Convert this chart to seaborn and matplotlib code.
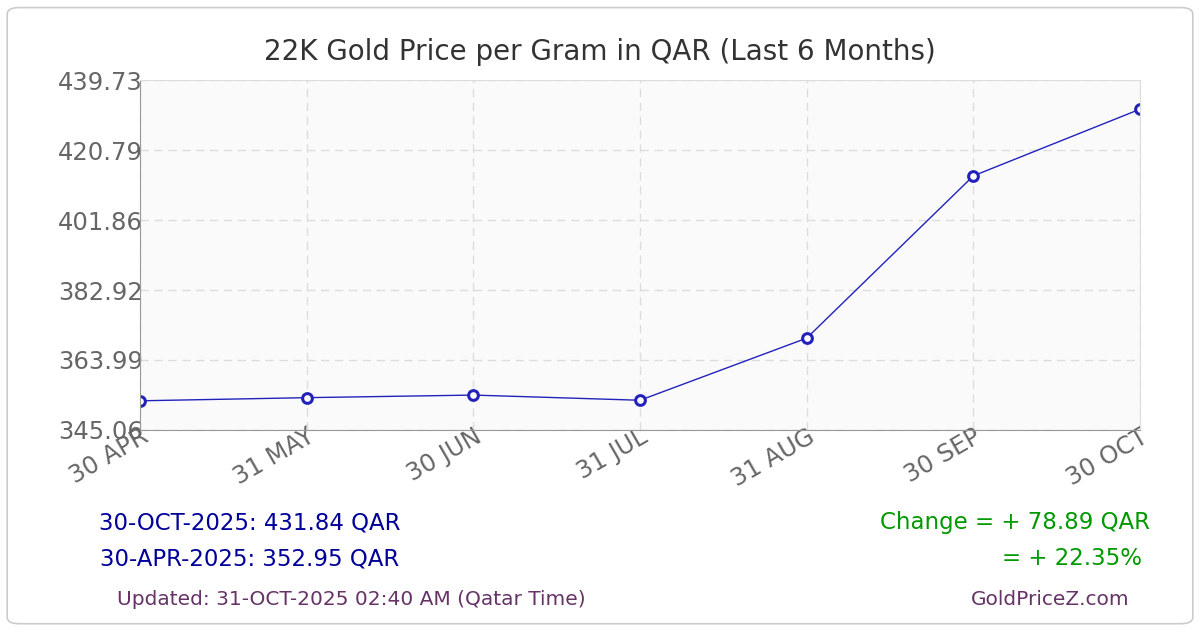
import matplotlib
matplotlib.use("Agg")
import matplotlib.pyplot as plt
import seaborn as sns
import pandas as pd
from matplotlib.patches import FancyBboxPatch

dates = ["30 APR", "31 MAY", "30 JUN", "31 JUL", "31 AUG", "30 SEP", "30 OCT"]
prices = [352.95, 353.8, 354.5, 353.1, 369.9, 413.8, 431.84]
yticks = [345.06, 363.99, 382.92, 401.86, 420.79, 439.73]

sns.set_style("white")
plt.rcParams['font.family'] = ['DejaVu Sans']
fig = plt.figure(figsize=(12, 6.3), dpi=100)
fig.patches.append(FancyBboxPatch((0.006, 0.01), 0.988, 0.978, boxstyle="round,pad=0,rounding_size=0.01",
                                  transform=fig.transFigure, fc="white", ec="#cccccc", lw=1.2, zorder=-1))
ax = fig.add_axes([0.1167, 0.3175, 0.8333, 0.5555])
ax.set_facecolor("#fafafa")
df = pd.DataFrame({"x": range(len(dates)), "y": prices})
sns.lineplot(data=df, x="x", y="y", ax=ax, color="#2222bb", lw=1, marker="o",
             markersize=7, markerfacecolor="white", markeredgecolor="#2222bb", markeredgewidth=2.2)
ax.set_xlim(0, len(dates) - 1)
ax.set_ylim(yticks[0], yticks[-1])
ax.set_yticks(yticks)
ax.set_yticklabels([f"{v:.2f}" for v in yticks], color="#666666", fontsize=17.5)
ax.set_xticks(range(len(dates)))
ax.set_xticklabels(dates, rotation=30, ha="right", color="#666666", fontsize=17.5, rotation_mode="anchor")
ax.set_xlabel(""); ax.set_ylabel("")
ax.grid(True, color="#dddddd", ls=(0, (6, 4)), lw=1)
for s in ["top", "right"]:
    ax.spines[s].set_color("#dddddd")
for s in ["left", "bottom"]:
    ax.spines[s].set_color("#999999")
ax.tick_params(axis="y", length=0, pad=-2)
ax.tick_params(axis="x", length=0, pad=-4)
fig.text(0.5, 0.905, "22K Gold Price per Gram in QAR (Last 6 Months)", ha="center", fontsize=20, color="#333333")
fig.text(0.208, 0.16, "30-OCT-2025: 431.84 QAR", ha="center", fontsize=16.5, color="#000099")
fig.text(0.208, 0.103, "30-APR-2025: 352.95 QAR", ha="center", fontsize=16.5, color="#000099")
fig.text(0.958, 0.16, "Change = + 78.89 QAR", ha="right", fontsize=16.5, color="#009900")
fig.text(0.952, 0.103, "= + 22.35%", ha="right", fontsize=16.5, color="#009900")
fig.text(0.293, 0.04, "Updated: 31-OCT-2025 02:40 AM (Qatar Time)", ha="center", fontsize=14.5, color="#663366")
fig.text(0.875, 0.04, "GoldPriceZ.com", ha="center", fontsize=14.5, color="#663366")
fig.savefig("out.png", dpi=100)
